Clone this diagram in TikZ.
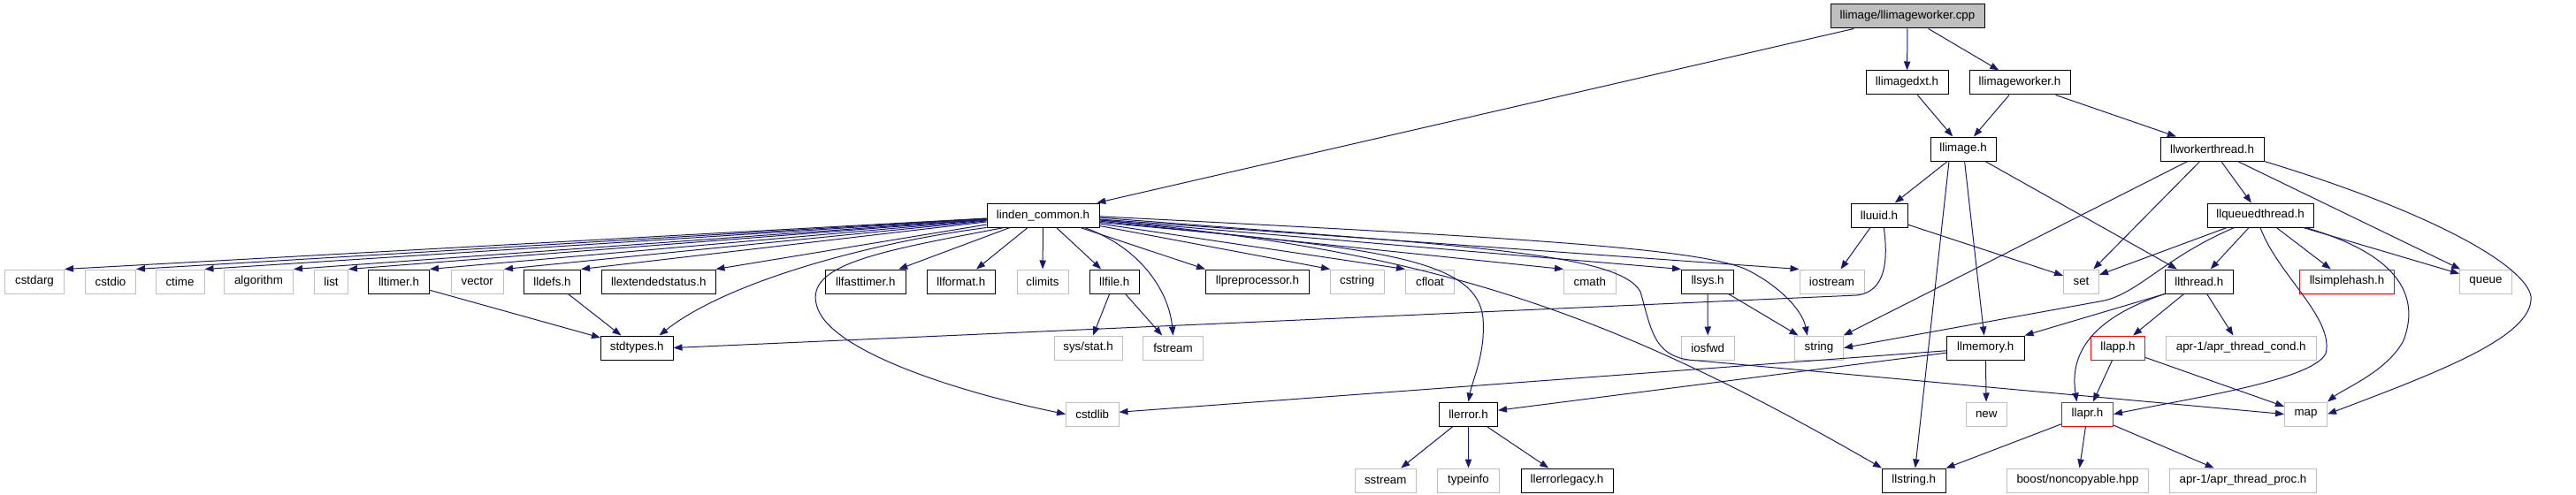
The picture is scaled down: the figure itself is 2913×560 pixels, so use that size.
\documentclass[tikz,border=0pt]{standalone}
\usepackage{fontspec}
\setmainfont{Liberation Sans}
\usetikzlibrary{arrows.meta,calc}
\definecolor{edgec}{HTML}{191970}
\definecolor{grayc}{HTML}{BFBFBF}
\tikzset{
 box/.style={draw=black, line width=0.75pt, rectangle, inner sep=0pt, minimum height=20.25pt, font=\fontsize{10pt}{12pt}\selectfont, text=black},
 sysbox/.style={box, draw=grayc},
 redbox/.style={box, draw=red},
 rootbox/.style={box, fill=grayc},
 edge/.style={draw=edgec, line width=0.75pt, -{Triangle[length=7.5pt,width=5.5pt]}},
}
\newcommand{\mkbox}[6]{\node[#1, minimum width={(#4-#3)*0.75pt}] (#2) at ({(#3+#4)/2},{18.5+75*#5}) {#6};}
\begin{document}
\begin{tikzpicture}[x=0.75pt,y=-0.75pt]
\fill[white] (0,0) rectangle (2913,560);
\useasboundingbox (0,0) rectangle (2913,560);
% row 0
\mkbox{rootbox}{cpp}{2070}{2244}{0}{llimage/llimageworker.cpp}
% row 1
\mkbox{box}{dxt}{2110}{2203}{1}{llimagedxt.h}
\mkbox{box}{iwh}{2227}{2341}{1}{llimageworker.h}
% row 2
\mkbox{box}{img}{2183}{2257}{2}{llimage.h}
\mkbox{box}{wth}{2443}{2560}{2}{llworkerthread.h}
% row 3
\mkbox{box}{lc}{1116}{1243}{3}{linden\_common.h}
\mkbox{box}{uuid}{2093}{2157}{3}{lluuid.h}
\mkbox{box}{qth}{2496}{2616}{3}{llqueuedthread.h}
% row 4
\mkbox{sysbox}{cstdarg}{5.5}{72.5}{4}{cstdarg}
\mkbox{sysbox}{cstdio}{96.5}{153.5}{4}{cstdio}
\mkbox{sysbox}{ctime}{176}{231}{4}{ctime}
\mkbox{sysbox}{algorithm}{253.5}{331.5}{4}{algorithm}
\mkbox{sysbox}{list}{355.5}{393.5}{4}{list}
\mkbox{box}{lltimer}{416.5}{485.5}{4}{lltimer.h}
\mkbox{sysbox}{vector}{510}{569.5}{4}{vector}
\mkbox{box}{lldefs}{592.5}{656.5}{4}{lldefs.h}
\mkbox{box}{llext}{680.5}{809}{4}{llextendedstatus.h}
\mkbox{box}{llfast}{933.5}{1024}{4}{llfasttimer.h}
\mkbox{box}{llformat}{1048.5}{1125}{4}{llformat.h}
\mkbox{sysbox}{climits}{1150}{1208}{4}{climits}
\mkbox{box}{llfile}{1232.5}{1288}{4}{llfile.h}
\mkbox{box}{llpre}{1363.5}{1480.5}{4}{llpreprocessor.h}
\mkbox{sysbox}{cstring}{1504.5}{1565}{4}{cstring}
\mkbox{sysbox}{cfloat}{1589.5}{1644.5}{4}{cfloat}
\mkbox{sysbox}{cmath}{1768.5}{1827}{4}{cmath}
\mkbox{box}{llsys}{1901.5}{1960.5}{4}{llsys.h}
\mkbox{sysbox}{iostream}{2035}{2108}{4}{iostream}
\mkbox{sysbox}{set}{2333.5}{2373.5}{4}{set}
\mkbox{box}{llthread}{2448.5}{2525}{4}{llthread.h}
\mkbox{redbox}{llsimple}{2600.5}{2707.5}{4}{llsimplehash.h}
\mkbox{sysbox}{queue}{2781.5}{2840.5}{4}{queue}
% row 5
\mkbox{box}{stdtypes}{679.5}{761}{5}{stdtypes.h}
\mkbox{sysbox}{sysstat}{1192}{1269}{5}{sys/stat.h}
\mkbox{sysbox}{fstream}{1292.5}{1360.5}{5}{fstream}
\mkbox{sysbox}{iosfwd}{1901.5}{1961}{5}{iosfwd}
\mkbox{sysbox}{string}{2029.5}{2084.5}{5}{string}
\mkbox{box}{llmemory}{2201.5}{2289}{5}{llmemory.h}
\mkbox{redbox}{llapp}{2364.5}{2425.5}{5}{llapp.h}
\mkbox{sysbox}{aprcond}{2449.5}{2619}{5}{apr-1/apr\_thread\_cond.h}
% row 6
\mkbox{sysbox}{cstdlib}{1205.5}{1265}{6}{cstdlib}
\mkbox{box}{llerror}{1627.5}{1693.5}{6}{llerror.h}
\mkbox{sysbox}{new}{2223.5}{2269}{6}{new}
\mkbox{redbox}{llapr}{2331.5}{2389.5}{6}{llapr.h}
\mkbox{sysbox}{map}{2583.5}{2631.5}{6}{map}
% row 7
\mkbox{sysbox}{sstream}{1532.5}{1601}{7}{sstream}
\mkbox{sysbox}{typeinfo}{1625.5}{1695.5}{7}{typeinfo}
\mkbox{box}{llerrleg}{1720}{1824}{7}{llerrorlegacy.h}
\mkbox{box}{llstring}{2128.5}{2200}{7}{llstring.h}
\mkbox{sysbox}{boost}{2269.5}{2429.5}{7}{boost/noncopyable.hpp}
\mkbox{sysbox}{aprproc}{2453.5}{2619.5}{7}{apr-1/apr\_thread\_proc.h}

% root
\draw[edge] (cpp) -- (lc);
\draw[edge] (cpp) -- (dxt);
\draw[edge] (cpp) -- (iwh);
\draw[edge] (dxt) -- (img);
\draw[edge] (iwh) -- (img);
\draw[edge] (iwh) -- (wth);
% llimage.h
\draw[edge] (img) -- (uuid);
\draw[edge] ([xshift=-12pt]img.south) -- (llstring);
\draw[edge] (img) -- (llmemory);
\draw[edge] (img) -- (llthread);
% llworkerthread.h
\draw[edge] (wth) -- (string);
\draw[edge] (wth) -- (set);
\draw[edge] (wth) -- (qth);
\draw[edge] (wth) -- (queue);
\draw[edge] (wth.south east) .. controls (2750,240) and (2855,300) .. (2862,335) .. controls (2866,380) and (2760,420) .. (map.east);
% llqueuedthread.h
\draw[edge] (qth) -- (set);
\draw[edge] ([xshift=-22pt]qth.south) .. controls (2450,290) and (2420,330) .. (2380,340) -- (string.east);
\draw[edge] (qth) -- (llthread);
\draw[edge] (qth) -- (llsimple);
\draw[edge] ([xshift=-9pt]qth.south east) -- (queue);
\draw[edge] ([xshift=-7pt]qth.south east) .. controls (2720,290) and (2735,340) .. (2718,385) .. controls (2700,420) and (2650,440) .. (map.north east);
\draw[edge] (qth.south) .. controls (2575,310) and (2640,360) .. (2630,400) .. controls (2615,430) and (2480,450) .. (llapr.east);
% llthread.h
\draw[edge] (llthread) -- (llapp);
\draw[edge] (llthread) -- (aprcond);
\draw[edge] (llthread.south west) -- (llmemory.north east);
\draw[edge] (llthread.south west) .. controls (2365,360) and (2340,400) .. ([xshift=-9pt]llapr.north);
% llapp.h
\draw[edge] (llapp) -- (llapr);
\draw[edge] (llapp) -- (map);
% llapr.h
\draw[edge] (llapr) -- (llstring);
\draw[edge] (llapr) -- (boost);
\draw[edge] (llapr) -- (aprproc);
% llmemory.h
\draw[edge] (llmemory) -- (new);
\draw[edge] (llmemory) -- (cstdlib);
\draw[edge] (llmemory) -- (llerror);
% llerror.h
\draw[edge] (llerror) -- (sstream);
\draw[edge] (llerror) -- (typeinfo);
\draw[edge] (llerror) -- (llerrleg);
% lluuid.h
\draw[edge] (uuid) -- (iostream);
\draw[edge] (uuid) -- (set);
\draw[edge] ([xshift=4pt]uuid.south) .. controls (2136,300) and (2130,330) .. (2100,334) -- (stdtypes.east);
% small ones
\draw[edge] (lltimer) -- (stdtypes);
\draw[edge] (lldefs) -- (stdtypes);
\draw[edge] (llfile) -- (sysstat);
\draw[edge] (llfile) -- (fstream);
\draw[edge] (llsys) -- (iosfwd);
\draw[edge] (llsys) -- (string);
% linden_common.h
\foreach \t in {cstdarg,cstdio,ctime,algorithm,list,lltimer,vector,lldefs,llext}
  \draw[edge] (lc) -- (\t.north east);
\draw[edge] (lc.south west) .. controls (980,275) and (820,320) .. ([xshift=-12pt]stdtypes.north east);
\draw[edge] ([xshift=15pt]lc.south west) .. controls (990,285) and (905,300) .. (925,350) .. controls (945,400) and (1090,445) .. (cstdlib.west);
\foreach \t in {llfast,llformat,climits,llfile}
  \draw[edge] (lc) -- (\t);
\draw[edge] ([xshift=-13pt]lc.south east) .. controls (1290,280) and (1322,330) .. (fstream.north);
\foreach \t in {llpre,cstring,cfloat,cmath,llsys,iostream}
  \draw[edge] (lc) -- (\t.north west);
\draw[edge] ([yshift=-6pt]lc.east) .. controls (1550,280) and (1670,290) .. (1677,360) .. controls (1680,400) and (1665,430) .. (llerror.north);
\draw[edge] ([yshift=-4pt]lc.east) .. controls (1600,283) and (1800,340) .. (llstring.north west);
\draw[edge] ([yshift=-2pt]lc.east) .. controls (1650,278) and (1830,285) .. (1855,330) .. controls (1868,375) and (1870,406) .. (1920,408) -- (map.west);
\draw[edge] ([yshift=-1pt]lc.east) .. controls (1700,268) and (1920,280) .. (1975,305) .. controls (2010,322) and (2038,350) .. ([xshift=-10pt]string.north);
\end{tikzpicture}
\end{document}
